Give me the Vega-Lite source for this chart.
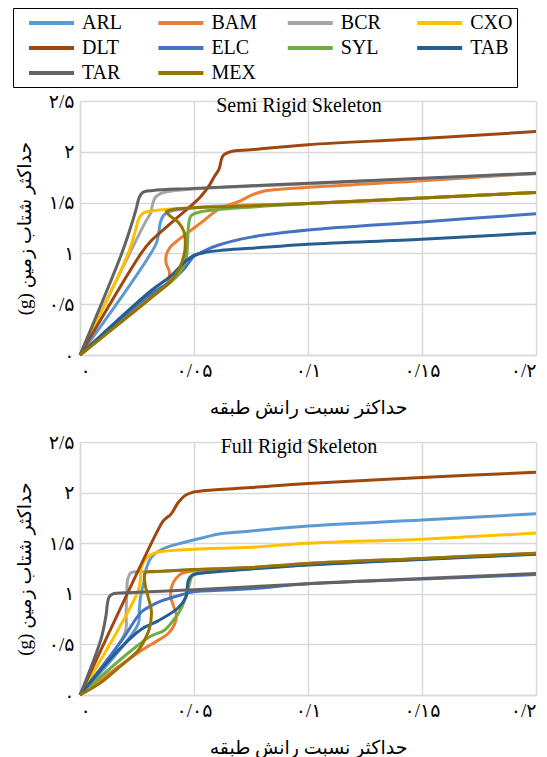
{
"$schema": "https://vega.github.io/schema/vega-lite/v6.json",
"background": "white",
"padding": {"left": 12, "top": 7, "right": 0, "bottom": 0},
"config": {
  "font": "Liberation Serif",
  "view": {"stroke": null},
  "concat": {"spacing": 16},
  "axis": {"gridColor": "#D9D9D9", "gridWidth": 1.5, "domainColor": "#D9D9D9", "domainWidth": 1.5, "ticks": false, "labelFont": "Liberation Serif, DejaVu Sans", "labelFontSize": 19, "labelColor": "#000", "titleFont": "Liberation Serif, DejaVu Sans", "titleFontSize": 19, "titleFontWeight": "normal", "titleColor": "#000"},
  "title": {"font": "Liberation Serif", "fontSize": 20, "fontWeight": "normal", "color": "#000"}
},
"datasets": {
"semi": [
{"s":"ARL","i":0,"x":0,"y":0},{"s":"ARL","i":1,"x":0.0333,"y":1.09},{"s":"ARL","i":2,"x":0.0345,"y":1.2},{"s":"ARL","i":3,"x":0.0352,"y":1.3},{"s":"ARL","i":4,"x":0.0365,"y":1.37},{"s":"ARL","i":5,"x":0.039,"y":1.41},{"s":"ARL","i":6,"x":0.05,"y":1.45},{"s":"ARL","i":7,"x":0.1,"y":1.49},{"s":"ARL","i":8,"x":0.15,"y":1.545},{"s":"ARL","i":9,"x":0.2,"y":1.6},
{"s":"BAM","i":0,"x":0,"y":0},{"s":"BAM","i":1,"x":0.02,"y":0.37},{"s":"BAM","i":2,"x":0.031,"y":0.57},{"s":"BAM","i":3,"x":0.0386,"y":0.72},{"s":"BAM","i":4,"x":0.0392,"y":0.82},{"s":"BAM","i":5,"x":0.0378,"y":0.9},{"s":"BAM","i":6,"x":0.0378,"y":0.98},{"s":"BAM","i":7,"x":0.0395,"y":1.06},{"s":"BAM","i":8,"x":0.043,"y":1.13},{"s":"BAM","i":9,"x":0.047,"y":1.2},{"s":"BAM","i":10,"x":0.053,"y":1.3},{"s":"BAM","i":11,"x":0.0605,"y":1.43},{"s":"BAM","i":12,"x":0.0706,"y":1.52},{"s":"BAM","i":13,"x":0.075,"y":1.57},{"s":"BAM","i":14,"x":0.08,"y":1.61},{"s":"BAM","i":15,"x":0.1,"y":1.65},{"s":"BAM","i":16,"x":0.15,"y":1.715},{"s":"BAM","i":17,"x":0.2,"y":1.79},
{"s":"BCR","i":0,"x":0,"y":0},{"s":"BCR","i":1,"x":0.0285,"y":1.3},{"s":"BCR","i":2,"x":0.031,"y":1.4},{"s":"BCR","i":3,"x":0.0318,"y":1.48},{"s":"BCR","i":4,"x":0.033,"y":1.55},{"s":"BCR","i":5,"x":0.0355,"y":1.59},{"s":"BCR","i":6,"x":0.04,"y":1.615},{"s":"BCR","i":7,"x":0.05,"y":1.635},{"s":"BCR","i":8,"x":0.1,"y":1.685},{"s":"BCR","i":9,"x":0.15,"y":1.735},{"s":"BCR","i":10,"x":0.2,"y":1.785},
{"s":"CXO","i":0,"x":0,"y":0},{"s":"CXO","i":1,"x":0.0215,"y":1.02},{"s":"CXO","i":2,"x":0.0246,"y":1.25},{"s":"CXO","i":3,"x":0.026,"y":1.35},{"s":"CXO","i":4,"x":0.028,"y":1.4},{"s":"CXO","i":5,"x":0.032,"y":1.42},{"s":"CXO","i":6,"x":0.05,"y":1.45},{"s":"CXO","i":7,"x":0.1,"y":1.49},{"s":"CXO","i":8,"x":0.15,"y":1.545},{"s":"CXO","i":9,"x":0.2,"y":1.6},
{"s":"DLT","i":0,"x":0,"y":0},{"s":"DLT","i":1,"x":0.0268,"y":1.0},{"s":"DLT","i":2,"x":0.031,"y":1.12},{"s":"DLT","i":3,"x":0.04,"y":1.3},{"s":"DLT","i":4,"x":0.053,"y":1.56},{"s":"DLT","i":5,"x":0.057,"y":1.68},{"s":"DLT","i":6,"x":0.059,"y":1.76},{"s":"DLT","i":7,"x":0.061,"y":1.83},{"s":"DLT","i":8,"x":0.0627,"y":1.96},{"s":"DLT","i":9,"x":0.066,"y":2.0},{"s":"DLT","i":10,"x":0.075,"y":2.02},{"s":"DLT","i":11,"x":0.1,"y":2.07},{"s":"DLT","i":12,"x":0.15,"y":2.13},{"s":"DLT","i":13,"x":0.2,"y":2.2},
{"s":"ELC","i":0,"x":0,"y":0},{"s":"ELC","i":1,"x":0.031,"y":0.6},{"s":"ELC","i":2,"x":0.04,"y":0.73},{"s":"ELC","i":3,"x":0.0457,"y":0.85},{"s":"ELC","i":4,"x":0.05,"y":0.97},{"s":"ELC","i":5,"x":0.055,"y":1.03},{"s":"ELC","i":6,"x":0.0605,"y":1.08},{"s":"ELC","i":7,"x":0.075,"y":1.16},{"s":"ELC","i":8,"x":0.1,"y":1.23},{"s":"ELC","i":9,"x":0.15,"y":1.31},{"s":"ELC","i":10,"x":0.2,"y":1.39},
{"s":"SYL","i":0,"x":0,"y":0},{"s":"SYL","i":1,"x":0.031,"y":0.56},{"s":"SYL","i":2,"x":0.043,"y":0.79},{"s":"SYL","i":3,"x":0.0465,"y":0.95},{"s":"SYL","i":4,"x":0.0472,"y":1.1},{"s":"SYL","i":5,"x":0.0475,"y":1.25},{"s":"SYL","i":6,"x":0.0487,"y":1.37},{"s":"SYL","i":7,"x":0.053,"y":1.41},{"s":"SYL","i":8,"x":0.06,"y":1.43},{"s":"SYL","i":9,"x":0.1,"y":1.49},{"s":"SYL","i":10,"x":0.15,"y":1.545},{"s":"SYL","i":11,"x":0.2,"y":1.6},
{"s":"TAB","i":0,"x":0,"y":0},{"s":"TAB","i":1,"x":0.031,"y":0.63},{"s":"TAB","i":2,"x":0.04,"y":0.78},{"s":"TAB","i":3,"x":0.0457,"y":0.91},{"s":"TAB","i":4,"x":0.05,"y":0.98},{"s":"TAB","i":5,"x":0.055,"y":1.01},{"s":"TAB","i":6,"x":0.062,"y":1.03},{"s":"TAB","i":7,"x":0.075,"y":1.05},{"s":"TAB","i":8,"x":0.1,"y":1.09},{"s":"TAB","i":9,"x":0.15,"y":1.14},{"s":"TAB","i":10,"x":0.2,"y":1.2},
{"s":"TAR","i":0,"x":0,"y":0},{"s":"TAR","i":1,"x":0.0188,"y":1.03},{"s":"TAR","i":2,"x":0.0235,"y":1.35},{"s":"TAR","i":3,"x":0.0248,"y":1.45},{"s":"TAR","i":4,"x":0.0258,"y":1.54},{"s":"TAR","i":5,"x":0.0275,"y":1.6},{"s":"TAR","i":6,"x":0.032,"y":1.62},{"s":"TAR","i":7,"x":0.05,"y":1.64},{"s":"TAR","i":8,"x":0.1,"y":1.69},{"s":"TAR","i":9,"x":0.15,"y":1.74},{"s":"TAR","i":10,"x":0.2,"y":1.79},
{"s":"MEX","i":0,"x":0,"y":0},{"s":"MEX","i":1,"x":0.031,"y":0.56},{"s":"MEX","i":2,"x":0.04,"y":0.73},{"s":"MEX","i":3,"x":0.0435,"y":0.85},{"s":"MEX","i":4,"x":0.0455,"y":0.97},{"s":"MEX","i":5,"x":0.0462,"y":1.1},{"s":"MEX","i":6,"x":0.0455,"y":1.22},{"s":"MEX","i":7,"x":0.043,"y":1.31},{"s":"MEX","i":8,"x":0.0395,"y":1.37},{"s":"MEX","i":9,"x":0.0378,"y":1.41},{"s":"MEX","i":10,"x":0.04,"y":1.43},{"s":"MEX","i":11,"x":0.05,"y":1.45},{"s":"MEX","i":12,"x":0.07,"y":1.465},{"s":"MEX","i":13,"x":0.1,"y":1.49},{"s":"MEX","i":14,"x":0.15,"y":1.545},{"s":"MEX","i":15,"x":0.2,"y":1.6}
],
"full": [
{"s":"ARL","i":0,"x":0,"y":0},{"s":"ARL","i":1,"x":0.0255,"y":0.7},{"s":"ARL","i":2,"x":0.026,"y":0.83},{"s":"ARL","i":3,"x":0.0265,"y":0.96},{"s":"ARL","i":4,"x":0.028,"y":1.12},{"s":"ARL","i":5,"x":0.0288,"y":1.23},{"s":"ARL","i":6,"x":0.0313,"y":1.36},{"s":"ARL","i":7,"x":0.036,"y":1.44},{"s":"ARL","i":8,"x":0.046,"y":1.51},{"s":"ARL","i":9,"x":0.055,"y":1.56},{"s":"ARL","i":10,"x":0.061,"y":1.59},{"s":"ARL","i":11,"x":0.075,"y":1.62},{"s":"ARL","i":12,"x":0.1,"y":1.67},{"s":"ARL","i":13,"x":0.15,"y":1.73},{"s":"ARL","i":14,"x":0.2,"y":1.79},
{"s":"BAM","i":0,"x":0,"y":0},{"s":"BAM","i":1,"x":0.0269,"y":0.44},{"s":"BAM","i":2,"x":0.0335,"y":0.53},{"s":"BAM","i":3,"x":0.0388,"y":0.61},{"s":"BAM","i":4,"x":0.0415,"y":0.7},{"s":"BAM","i":5,"x":0.0423,"y":0.78},{"s":"BAM","i":6,"x":0.041,"y":0.88},{"s":"BAM","i":7,"x":0.0398,"y":0.97},{"s":"BAM","i":8,"x":0.0402,"y":1.07},{"s":"BAM","i":9,"x":0.042,"y":1.15},{"s":"BAM","i":10,"x":0.0445,"y":1.2},{"s":"BAM","i":11,"x":0.05,"y":1.225},{"s":"BAM","i":12,"x":0.075,"y":1.255},{"s":"BAM","i":13,"x":0.1,"y":1.29},{"s":"BAM","i":14,"x":0.15,"y":1.345},{"s":"BAM","i":15,"x":0.2,"y":1.395},
{"s":"BCR","i":0,"x":0,"y":0},{"s":"BCR","i":1,"x":0.0198,"y":0.62},{"s":"BCR","i":2,"x":0.0202,"y":0.8},{"s":"BCR","i":3,"x":0.0205,"y":1.0},{"s":"BCR","i":4,"x":0.021,"y":1.15},{"s":"BCR","i":5,"x":0.0225,"y":1.21},{"s":"BCR","i":6,"x":0.03,"y":1.215},{"s":"BCR","i":7,"x":0.05,"y":1.24},{"s":"BCR","i":8,"x":0.075,"y":1.26},{"s":"BCR","i":9,"x":0.1,"y":1.3},{"s":"BCR","i":10,"x":0.15,"y":1.35},{"s":"BCR","i":11,"x":0.2,"y":1.4},
{"s":"CXO","i":0,"x":0,"y":0},{"s":"CXO","i":1,"x":0.0255,"y":1.03},{"s":"CXO","i":2,"x":0.0265,"y":1.15},{"s":"CXO","i":3,"x":0.0269,"y":1.26},{"s":"CXO","i":4,"x":0.03,"y":1.37},{"s":"CXO","i":5,"x":0.034,"y":1.41},{"s":"CXO","i":6,"x":0.05,"y":1.44},{"s":"CXO","i":7,"x":0.075,"y":1.46},{"s":"CXO","i":8,"x":0.1,"y":1.5},{"s":"CXO","i":9,"x":0.15,"y":1.54},{"s":"CXO","i":10,"x":0.2,"y":1.6},
{"s":"DLT","i":0,"x":0,"y":0},{"s":"DLT","i":1,"x":0.0335,"y":1.6},{"s":"DLT","i":2,"x":0.0365,"y":1.72},{"s":"DLT","i":3,"x":0.04,"y":1.79},{"s":"DLT","i":4,"x":0.043,"y":1.9},{"s":"DLT","i":5,"x":0.046,"y":1.97},{"s":"DLT","i":6,"x":0.049,"y":2.0},{"s":"DLT","i":7,"x":0.055,"y":2.02},{"s":"DLT","i":8,"x":0.075,"y":2.05},{"s":"DLT","i":9,"x":0.1,"y":2.09},{"s":"DLT","i":10,"x":0.15,"y":2.15},{"s":"DLT","i":11,"x":0.2,"y":2.2},
{"s":"ELC","i":0,"x":0,"y":0},{"s":"ELC","i":1,"x":0.018,"y":0.53},{"s":"ELC","i":2,"x":0.0269,"y":0.82},{"s":"ELC","i":3,"x":0.031,"y":0.88},{"s":"ELC","i":4,"x":0.0357,"y":0.93},{"s":"ELC","i":5,"x":0.0445,"y":0.99},{"s":"ELC","i":6,"x":0.05,"y":1.02},{"s":"ELC","i":7,"x":0.075,"y":1.05},{"s":"ELC","i":8,"x":0.1,"y":1.1},{"s":"ELC","i":9,"x":0.15,"y":1.145},{"s":"ELC","i":10,"x":0.2,"y":1.19},
{"s":"SYL","i":0,"x":0,"y":0},{"s":"SYL","i":1,"x":0.0225,"y":0.44},{"s":"SYL","i":2,"x":0.031,"y":0.58},{"s":"SYL","i":3,"x":0.037,"y":0.64},{"s":"SYL","i":4,"x":0.041,"y":0.74},{"s":"SYL","i":5,"x":0.0445,"y":0.86},{"s":"SYL","i":6,"x":0.0465,"y":0.98},{"s":"SYL","i":7,"x":0.048,"y":1.1},{"s":"SYL","i":8,"x":0.049,"y":1.17},{"s":"SYL","i":9,"x":0.051,"y":1.2},{"s":"SYL","i":10,"x":0.055,"y":1.215},{"s":"SYL","i":11,"x":0.075,"y":1.25},{"s":"SYL","i":12,"x":0.1,"y":1.29},{"s":"SYL","i":13,"x":0.15,"y":1.345},{"s":"SYL","i":14,"x":0.2,"y":1.395},
{"s":"TAB","i":0,"x":0,"y":0},{"s":"TAB","i":1,"x":0.0167,"y":0.44},{"s":"TAB","i":2,"x":0.0269,"y":0.65},{"s":"TAB","i":3,"x":0.034,"y":0.73},{"s":"TAB","i":4,"x":0.043,"y":0.86},{"s":"TAB","i":5,"x":0.0465,"y":0.97},{"s":"TAB","i":6,"x":0.047,"y":1.05},{"s":"TAB","i":7,"x":0.0475,"y":1.13},{"s":"TAB","i":8,"x":0.049,"y":1.18},{"s":"TAB","i":9,"x":0.052,"y":1.2},{"s":"TAB","i":10,"x":0.075,"y":1.245},{"s":"TAB","i":11,"x":0.1,"y":1.285},{"s":"TAB","i":12,"x":0.15,"y":1.34},{"s":"TAB","i":13,"x":0.2,"y":1.39},
{"s":"TAR","i":0,"x":0,"y":0},{"s":"TAR","i":1,"x":0.0093,"y":0.56},{"s":"TAR","i":2,"x":0.0115,"y":0.8},{"s":"TAR","i":3,"x":0.012,"y":0.9},{"s":"TAR","i":4,"x":0.0128,"y":0.97},{"s":"TAR","i":5,"x":0.0145,"y":1.0},{"s":"TAR","i":6,"x":0.02,"y":1.01},{"s":"TAR","i":7,"x":0.05,"y":1.04},{"s":"TAR","i":8,"x":0.075,"y":1.07},{"s":"TAR","i":9,"x":0.1,"y":1.1},{"s":"TAR","i":10,"x":0.15,"y":1.15},{"s":"TAR","i":11,"x":0.2,"y":1.2},
{"s":"MEX","i":0,"x":0,"y":0},{"s":"MEX","i":1,"x":0.009,"y":0.12},{"s":"MEX","i":2,"x":0.017,"y":0.27},{"s":"MEX","i":3,"x":0.0255,"y":0.44},{"s":"MEX","i":4,"x":0.028,"y":0.53},{"s":"MEX","i":5,"x":0.0305,"y":0.66},{"s":"MEX","i":6,"x":0.0313,"y":0.83},{"s":"MEX","i":7,"x":0.03,"y":0.96},{"s":"MEX","i":8,"x":0.0285,"y":1.1},{"s":"MEX","i":9,"x":0.0283,"y":1.19},{"s":"MEX","i":10,"x":0.029,"y":1.215},{"s":"MEX","i":11,"x":0.033,"y":1.22},{"s":"MEX","i":12,"x":0.05,"y":1.24},{"s":"MEX","i":13,"x":0.075,"y":1.26},{"s":"MEX","i":14,"x":0.1,"y":1.3},{"s":"MEX","i":15,"x":0.15,"y":1.35},{"s":"MEX","i":16,"x":0.2,"y":1.4}
]
},
"vconcat": [
{
  "width": 456, "height": 254,
  "title": {"text": "Semi Rigid Skeleton", "offset": -24, "dx": -9},
  "data": {"name": "semi"},
  "mark": {"type": "line", "strokeWidth": 3, "interpolate": "catmull-rom"},
  "encoding": {
    "x": {"field": "x", "type": "quantitative", "scale": {"domain": [0, 0.2], "nice": false},
      "axis": {"values": [0, 0.05, 0.1, 0.15, 0.2], "labelExpr": "datum.value == 0 ? '۰' : datum.value == 0.05 ? '۰/۰۵' : datum.value == 0.1 ? '۰/۱' : datum.value == 0.15 ? '۰/۱۵' : '۰/۲'", "title": "حداکثر نسبت رانش طبقه", "labelPadding": 6, "titlePadding": 18}},
    "y": {"field": "y", "type": "quantitative", "scale": {"domain": [0, 2.5], "nice": false},
      "axis": {"values": [0, 0.5, 1, 1.5, 2, 2.5], "labelExpr": "datum.value == 0 ? '۰' : datum.value == 0.5 ? '۰/۵' : datum.value == 1 ? '۱' : datum.value == 1.5 ? '۱/۵' : datum.value == 2 ? '۲' : '۲/۵'", "title": "(g) حداکثر شتاب زمین", "labelPadding": 6, "titlePadding": 14}},
    "color": {"field": "s", "type": "nominal",
      "scale": {"domain": ["ARL", "BAM", "BCR", "CXO", "DLT", "ELC", "SYL", "TAB", "TAR", "MEX"], "range": ["#5B9BD5", "#ED7D31", "#A5A5A5", "#FFC000", "#9E480E", "#4472C4", "#70AD47", "#255E91", "#636363", "#997300"]},
      "legend": {"title": null, "orient": "none", "legendX": -67, "legendY": -93, "direction": "horizontal", "columns": 4, "symbolType": "M-2.5,0H2.5", "symbolSize": 324, "symbolStrokeWidth": 4, "symbolOffset": 23.5, "labelFontSize": 20, "labelFont": "Liberation Serif", "labelColor": "#000", "labelOffset": 19.5, "columnPadding": 18.4, "rowPadding": 4, "gridAlign": "all", "padding": 4, "strokeColor": "#000"}},
    "order": {"field": "i", "type": "quantitative"}
  }
},
{
  "width": 456, "height": 253,
  "title": {"text": "Full Rigid Skeleton", "offset": -24, "dx": -9},
  "data": {"name": "full"},
  "mark": {"type": "line", "strokeWidth": 3, "interpolate": "catmull-rom"},
  "encoding": {
    "x": {"field": "x", "type": "quantitative", "scale": {"domain": [0, 0.2], "nice": false},
      "axis": {"values": [0, 0.05, 0.1, 0.15, 0.2], "labelExpr": "datum.value == 0 ? '۰' : datum.value == 0.05 ? '۰/۰۵' : datum.value == 0.1 ? '۰/۱' : datum.value == 0.15 ? '۰/۱۵' : '۰/۲'", "title": "حداکثر نسبت رانش طبقه", "labelPadding": 6, "titlePadding": 18}},
    "y": {"field": "y", "type": "quantitative", "scale": {"domain": [0, 2.5], "nice": false},
      "axis": {"values": [0, 0.5, 1, 1.5, 2, 2.5], "labelExpr": "datum.value == 0 ? '۰' : datum.value == 0.5 ? '۰/۵' : datum.value == 1 ? '۱' : datum.value == 1.5 ? '۱/۵' : datum.value == 2 ? '۲' : '۲/۵'", "title": "(g) حداکثر شتاب زمین", "labelPadding": 6, "titlePadding": 14}},
    "color": {"field": "s", "type": "nominal"},
    "order": {"field": "i", "type": "quantitative"}
  }
}
]
}
